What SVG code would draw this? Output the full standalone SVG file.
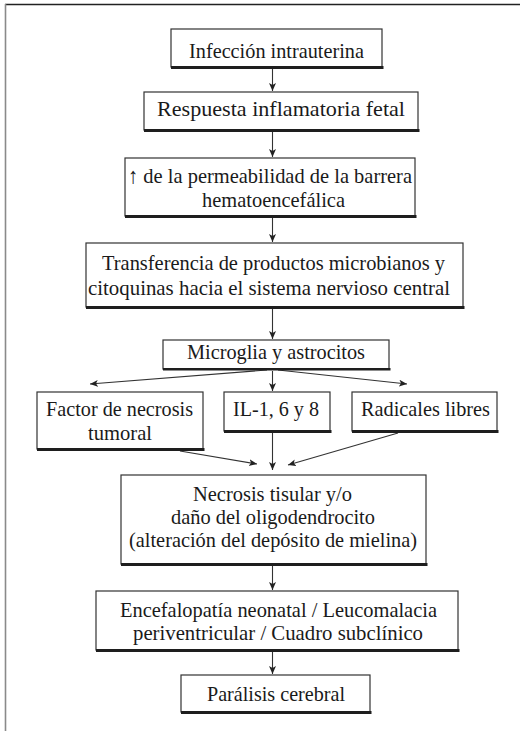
<svg xmlns="http://www.w3.org/2000/svg" width="520" height="731" viewBox="0 0 520 731">
  <style>
    .box { fill: #ffffff; stroke: #333333; stroke-width: 1.2; }
    .shadow { fill: #1e1e1e; }
    text { font-family: 'Liberation Serif', 'Times New Roman', serif; font-size: 22px; fill: #1a1a1a; text-anchor: middle; }
    .link { stroke: #333333; stroke-width: 1.1; fill: none; marker-end: url(#head); }
  </style>
  <defs>
    <marker id="head" markerUnits="userSpaceOnUse" markerWidth="9" markerHeight="8" refX="8" refY="3.5" orient="auto">
      <path d="M0,0 L8,3.5 L0,7 L2,3.5 z" fill="#222222"/>
    </marker>
  </defs>

  <rect width="520" height="731" fill="#ffffff"/>

  <!-- page frame -->
  <g id="frame">
    <line x1="5" y1="4.5" x2="520" y2="4.5" stroke="#222222" stroke-width="1.5"/>
    <line x1="5.5" y1="4" x2="5.5" y2="731" stroke="#8a8a8a" stroke-width="1.6"/>
  </g>

  <!-- connectors -->
  <g id="connectors">
    <line class="link" x1="272.5" y1="68" x2="272.5" y2="91"/>
    <line class="link" x1="272.5" y1="132" x2="272.5" y2="157"/>
    <line class="link" x1="272.5" y1="218" x2="272.5" y2="242"/>
    <line class="link" x1="272.5" y1="309" x2="272.5" y2="339"/>
    <line class="link" x1="267" y1="370" x2="90" y2="384"/>
    <line class="link" x1="272.5" y1="371" x2="272.5" y2="391"/>
    <line class="link" x1="278" y1="370" x2="407" y2="384"/>
    <line class="link" x1="180" y1="451" x2="257" y2="464"/>
    <line class="link" x1="272.5" y1="433" x2="272.5" y2="470"/>
    <line class="link" x1="398" y1="433" x2="288" y2="465"/>
    <line class="link" x1="272.5" y1="566" x2="272.5" y2="590"/>
    <line class="link" x1="272.5" y1="652" x2="272.5" y2="674"/>
  </g>

  <g id="infeccion">
    <rect class="box" x="171" y="29" width="211" height="38"/>
    <rect class="shadow" x="171" y="66" width="212.5" height="3"/>
    <text x="276.5" y="58" textLength="175" lengthAdjust="spacingAndGlyphs">Infección intrauterina</text>
  </g>

  <g id="respuesta">
    <rect class="box" x="144" y="92" width="274" height="38"/>
    <rect class="shadow" x="144" y="129" width="275.5" height="3"/>
    <text x="281" y="116" textLength="248" lengthAdjust="spacingAndGlyphs">Respuesta inflamatoria fetal</text>
  </g>

  <g id="permeabilidad">
    <rect class="box" x="125" y="158" width="290" height="58"/>
    <rect class="shadow" x="125" y="215" width="291.5" height="3"/>
    <text x="270" y="183" textLength="284" lengthAdjust="spacingAndGlyphs">↑ de la permeabilidad de la barrera</text>
    <text x="273.5" y="207" textLength="143" lengthAdjust="spacingAndGlyphs">hematoencefálica</text>
  </g>

  <g id="transferencia">
    <rect class="box" x="86" y="243" width="377" height="64"/>
    <rect class="shadow" x="86" y="306" width="378.5" height="3"/>
    <text x="273.5" y="270" textLength="343" lengthAdjust="spacingAndGlyphs">Transferencia de productos microbianos y</text>
    <text x="269" y="295" textLength="362" lengthAdjust="spacingAndGlyphs">citoquinas hacia el sistema nervioso central</text>
  </g>

  <g id="microglia">
    <rect class="box" x="163" y="340" width="226" height="29"/>
    <rect class="shadow" x="163" y="368" width="227.5" height="2.5"/>
    <text x="276" y="359" textLength="178" lengthAdjust="spacingAndGlyphs">Microglia y astrocitos</text>
  </g>

  <g id="factor">
    <rect class="box" x="37" y="392" width="166" height="57"/>
    <rect class="shadow" x="37" y="448" width="167.5" height="3"/>
    <text x="119.5" y="416" textLength="147" lengthAdjust="spacingAndGlyphs">Factor de necrosis</text>
    <text x="120" y="440" textLength="64" lengthAdjust="spacingAndGlyphs">tumoral</text>
  </g>

  <g id="interleucinas">
    <rect class="box" x="224" y="392" width="106" height="39"/>
    <rect class="shadow" x="224" y="430" width="107.5" height="3"/>
    <text x="276" y="416" textLength="86" lengthAdjust="spacingAndGlyphs">IL-1, 6 y 8</text>
  </g>

  <g id="radicales">
    <rect class="box" x="352" y="392" width="145" height="39"/>
    <rect class="shadow" x="352" y="430" width="146.5" height="3"/>
    <text x="425.5" y="416" textLength="129" lengthAdjust="spacingAndGlyphs">Radicales libres</text>
  </g>

  <g id="necrosis">
    <rect class="box" x="121" y="475" width="305" height="89"/>
    <rect class="shadow" x="121" y="563" width="306.5" height="3"/>
    <text x="272.5" y="501" textLength="159" lengthAdjust="spacingAndGlyphs">Necrosis tisular y/o</text>
    <text x="273" y="524" textLength="204" lengthAdjust="spacingAndGlyphs">daño del oligodendrocito</text>
    <text x="273" y="547" textLength="288" lengthAdjust="spacingAndGlyphs">(alteración del depósito de mielina)</text>
  </g>

  <g id="encefalopatia">
    <rect class="box" x="96" y="591" width="362" height="59"/>
    <rect class="shadow" x="96" y="649" width="363.5" height="3"/>
    <text x="278.5" y="617" textLength="317" lengthAdjust="spacingAndGlyphs">Encefalopatía neonatal / Leucomalacia</text>
    <text x="278" y="640" textLength="290" lengthAdjust="spacingAndGlyphs">periventricular / Cuadro subclínico</text>
  </g>

  <g id="paralisis">
    <rect class="box" x="181" y="675" width="189" height="37"/>
    <rect class="shadow" x="181" y="711" width="190.5" height="3"/>
    <text x="276" y="701" textLength="138" lengthAdjust="spacingAndGlyphs">Parálisis cerebral</text>
  </g>
</svg>
